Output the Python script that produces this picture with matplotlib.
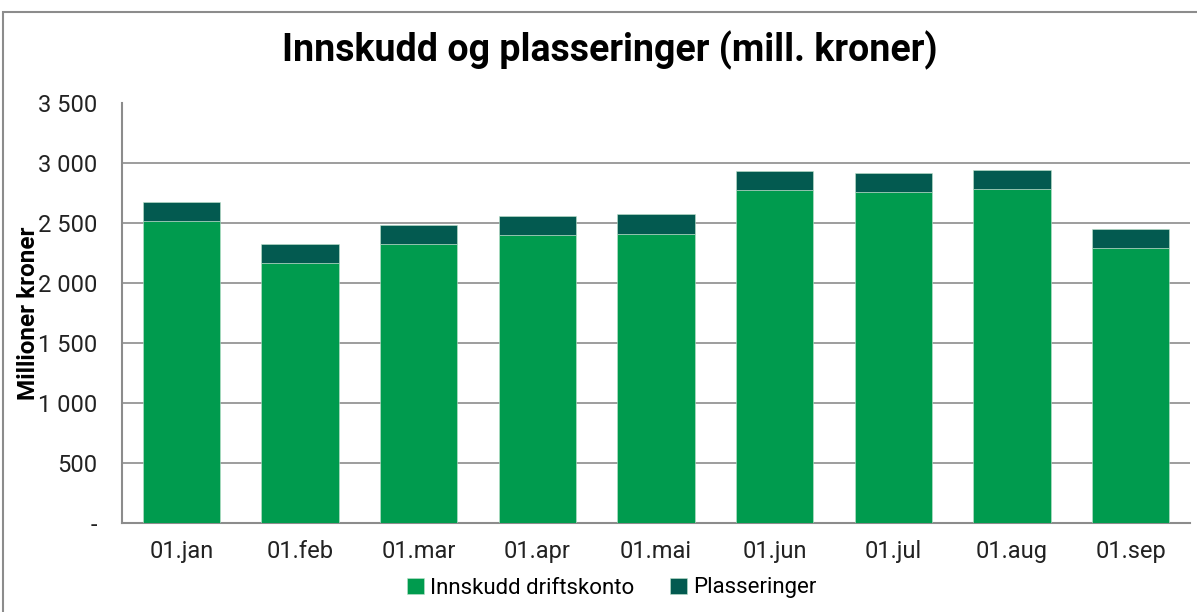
import matplotlib
matplotlib.use("Agg")
import matplotlib.pyplot as plt
from matplotlib.patches import Rectangle
import numpy as np

categories = ["01.jan", "01.feb", "01.mar", "01.apr", "01.mai", "01.jun", "01.jul", "01.aug", "01.sep"]
innskudd = [2515, 2168, 2322, 2398, 2410, 2772, 2758, 2780, 2293]
plasseringer = [158, 157, 158, 158, 162, 158, 157, 160, 160]
yticks = [0, 500, 1000, 1500, 2000, 2500, 3000, 3500]
ytick_labels = ["-", "500", "1 000", "1 500", "2 000", "2 500", "3 000", "3 500"]

green = "#009B4E"
dark = "#035A50"
grid = "#8C8C8C"

plt.rcParams['font.family'] = ['Roboto', 'DejaVu Sans']

W, H = 1197, 612
fig = plt.figure(figsize=(W / 100, H / 100), dpi=100)
ax = fig.add_axes([122 / W, 1 - 523 / H, (1190 - 122) / W, (523 - 103) / H])

x = np.arange(len(categories))
ax.bar(x, innskudd, width=0.65, color=green, edgecolor="#BFE3CC", linewidth=0.4, label="Innskudd driftskonto", zorder=3)
ax.bar(x, plasseringer, width=0.65, bottom=innskudd, color=dark, edgecolor="#BFE3CC", linewidth=0.4, label="Plasseringer", zorder=3)

ax.set_xlim(-0.5, len(categories) - 0.5)
ax.set_ylim(0, 3500)
ax.set_yticks(yticks)
ax.set_yticklabels(ytick_labels)
ax.set_xticks(x)
ax.set_xticklabels(categories)
for t in yticks[1:-1]:
    ax.axhline(t, color=grid, linewidth=1.2, zorder=1)

for s in ["top", "right"]:
    ax.spines[s].set_visible(False)
for s in ["left", "bottom"]:
    ax.spines[s].set_color(grid)
    ax.spines[s].set_linewidth(1.5)
ax.tick_params(axis="both", length=0, labelsize=17, colors="#222222")
ax.tick_params(axis="y", pad=18)
ax.tick_params(axis="x", pad=12)

ax.set_ylabel("Millioner kroner", fontsize=17.5, fontweight="bold")
ax.yaxis.set_label_coords((29 - 122) / (1190 - 122), 0.5)
ax.yaxis.label.set_va("center")

fig.text(610 / W, 1 - 50 / H, "Innskudd og plasseringer (mill. kroner)", ha="center", va="center",
         fontsize=27, fontweight="bold")

fig.legend(loc="center", bbox_to_anchor=(612 / W, 1 - 588 / H), ncol=2, frameon=False,
           fontsize=16, handlelength=0.75, handleheight=0.75, handletextpad=0.3, columnspacing=1.6)

fig.patches.append(Rectangle((3 / W, -0.1), 1.2, 1 - 12 / H + 0.1, transform=fig.transFigure,
                             fill=False, edgecolor=grid, linewidth=1.5))

fig.savefig("out.png", dpi=100)
